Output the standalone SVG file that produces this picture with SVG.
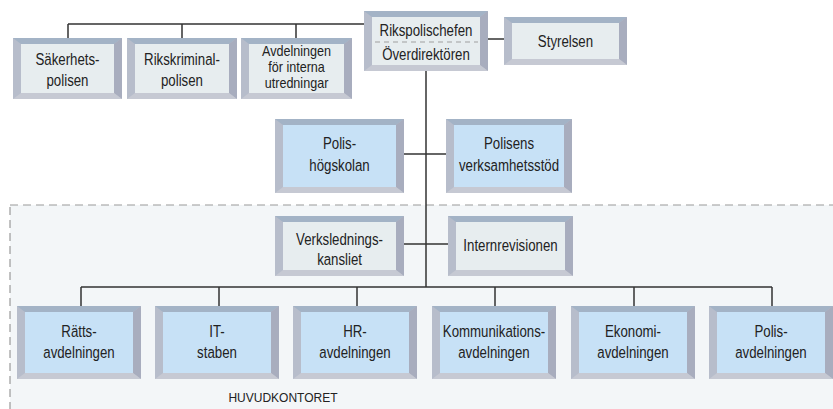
<svg xmlns="http://www.w3.org/2000/svg" width="833" height="409" viewBox="0 0 833 409">
<style>
.bg{fill:#ffffff}
.zone{fill:#f3f6f8;stroke:#9a9a9a;stroke-width:1.2;stroke-dasharray:8 5}
.ln{fill:none;stroke:#333333;stroke-width:1.5}
.fl{fill:#b7bdcb}
.ft{fill:#a3b3c6}
.fr{fill:#a8adbe}
.fb{fill:#c6c9d3}
.ig{fill:#e7edef}
.ib{fill:#c7e1f6}
.dash{stroke:#a0a0a0;stroke-width:1.2;stroke-dasharray:5 4}
.t{font-family:"Liberation Sans",Arial,sans-serif;font-size:17px;fill:#222222;text-anchor:middle;transform-box:fill-box;transform-origin:center;transform:scaleX(0.78)}
.s{font-size:14px;transform:scaleX(0.9)}
.cap{font-family:"Liberation Sans",Arial,sans-serif;font-size:12px;fill:#222222;text-anchor:middle}
</style>
<rect class="bg" x="0" y="0" width="833" height="409"/>
<rect id="huvudkontoret-zone" class="zone" x="10" y="205" width="830" height="215"/>
<g id="connectors">
<path class="ln" d="M68,24 H364 M68,24 V38 M182,24 V38 M296,24 V38"/>
<path class="ln" d="M488,39 H504"/>
<path class="ln" d="M426,71 V287"/>
<path class="ln" d="M404,154 H446"/>
<path class="ln" d="M404,244 H448"/>
<path class="ln" d="M81,287 H772 M81,287 V306 M219,287 V306 M357,287 V306 M495,287 V306 M634,287 V306 M772,287 V306"/>
</g>
<g id="sakerhetspolisen">
<rect class="fl" x="13" y="38" width="109" height="61"/>
<polygon class="ft" points="13,38 122,38 114,44 21,44"/>
<polygon class="fr" points="122,38 122,99 114,93 114,44"/>
<polygon class="fb" points="13,99 122,99 114,93 21,93"/>
<rect class="ig" x="21" y="44" width="93" height="49"/>
<text class="t" x="67.5" y="65">Säkerhets-</text>
<text class="t" x="67.5" y="86">polisen</text>
</g>
<g id="rikskriminalpolisen">
<rect class="fl" x="127" y="38" width="110" height="61"/>
<polygon class="ft" points="127,38 237,38 229,44 135,44"/>
<polygon class="fr" points="237,38 237,99 229,93 229,44"/>
<polygon class="fb" points="127,99 237,99 229,93 135,93"/>
<rect class="ig" x="135" y="44" width="94" height="49"/>
<text class="t" x="182" y="65">Rikskriminal-</text>
<text class="t" x="182" y="86">polisen</text>
</g>
<g id="avdelningen-interna">
<rect class="fl" x="241" y="38" width="111" height="61"/>
<polygon class="ft" points="241,38 352,38 344,44 249,44"/>
<polygon class="fr" points="352,38 352,99 344,93 344,44"/>
<polygon class="fb" points="241,99 352,99 344,93 249,93"/>
<rect class="ig" x="249" y="44" width="95" height="49"/>
<text class="t s" x="296.5" y="56">Avdelningen</text>
<text class="t s" x="296.5" y="72">för interna</text>
<text class="t s" x="296.5" y="88">utredningar</text>
</g>
<g id="rikspolischefen">
<rect class="fl" x="364" y="11" width="124" height="60"/>
<polygon class="ft" points="364,11 488,11 480,17 372,17"/>
<polygon class="fr" points="488,11 488,71 480,65 480,17"/>
<polygon class="fb" points="364,71 488,71 480,65 372,65"/>
<rect class="ig" x="372" y="17" width="108" height="48"/>
<line class="dash" x1="375" y1="42" x2="478" y2="42"/>
<text class="t" x="426" y="36">Rikspolischefen</text>
<text class="t" x="426" y="60">Överdirektören</text>
</g>
<g id="styrelsen">
<rect class="fl" x="504" y="17" width="123" height="48"/>
<polygon class="ft" points="504,17 627,17 619,23 512,23"/>
<polygon class="fr" points="627,17 627,65 619,59 619,23"/>
<polygon class="fb" points="504,65 627,65 619,59 512,59"/>
<rect class="ig" x="512" y="23" width="107" height="36"/>
<text class="t" x="565.5" y="47">Styrelsen</text>
</g>
<g id="polishogskolan">
<rect class="fl" x="275" y="119" width="129" height="74"/>
<polygon class="ft" points="275,119 404,119 396,125 283,125"/>
<polygon class="fr" points="404,119 404,193 396,187 396,125"/>
<polygon class="fb" points="275,193 404,193 396,187 283,187"/>
<rect class="ib" x="283" y="125" width="113" height="62"/>
<text class="t" x="339.5" y="149">Polis-</text>
<text class="t" x="339.5" y="171">högskolan</text>
</g>
<g id="polisens-verksamhetsstod">
<rect class="fl" x="446" y="119" width="126" height="74"/>
<polygon class="ft" points="446,119 572,119 564,125 454,125"/>
<polygon class="fr" points="572,119 572,193 564,187 564,125"/>
<polygon class="fb" points="446,193 572,193 564,187 454,187"/>
<rect class="ib" x="454" y="125" width="110" height="62"/>
<text class="t" x="509" y="149">Polisens</text>
<text class="t" x="509" y="171">verksamhetsstöd</text>
</g>
<g id="verksledningskansliet">
<rect class="fl" x="275" y="216" width="129" height="60"/>
<polygon class="ft" points="275,216 404,216 396,222 283,222"/>
<polygon class="fr" points="404,216 404,276 396,270 396,222"/>
<polygon class="fb" points="275,276 404,276 396,270 283,270"/>
<rect class="ig" x="283" y="222" width="113" height="48"/>
<text class="t" x="339.5" y="245">Verkslednings-</text>
<text class="t" x="339.5" y="265">kansliet</text>
</g>
<g id="internrevisionen">
<rect class="fl" x="448" y="216" width="125" height="60"/>
<polygon class="ft" points="448,216 573,216 565,222 456,222"/>
<polygon class="fr" points="573,216 573,276 565,270 565,222"/>
<polygon class="fb" points="448,276 573,276 565,270 456,270"/>
<rect class="ig" x="456" y="222" width="109" height="48"/>
<text class="t" x="510.5" y="251">Internrevisionen</text>
</g>
<g id="rattsavdelningen">
<rect class="fl" x="17" y="306" width="124" height="73"/>
<polygon class="ft" points="17,306 141,306 133,312 25,312"/>
<polygon class="fr" points="141,306 141,379 133,373 133,312"/>
<polygon class="fb" points="17,379 141,379 133,373 25,373"/>
<rect class="ib" x="25" y="312" width="108" height="61"/>
<text class="t" x="79" y="337">Rätts-</text>
<text class="t" x="79" y="358">avdelningen</text>
</g>
<g id="it-staben">
<rect class="fl" x="155" y="306" width="124" height="73"/>
<polygon class="ft" points="155,306 279,306 271,312 163,312"/>
<polygon class="fr" points="279,306 279,379 271,373 271,312"/>
<polygon class="fb" points="155,379 279,379 271,373 163,373"/>
<rect class="ib" x="163" y="312" width="108" height="61"/>
<text class="t" x="217" y="337">IT-</text>
<text class="t" x="217" y="358">staben</text>
</g>
<g id="hr-avdelningen">
<rect class="fl" x="293" y="306" width="124" height="73"/>
<polygon class="ft" points="293,306 417,306 409,312 301,312"/>
<polygon class="fr" points="417,306 417,379 409,373 409,312"/>
<polygon class="fb" points="293,379 417,379 409,373 301,373"/>
<rect class="ib" x="301" y="312" width="108" height="61"/>
<text class="t" x="355" y="337">HR-</text>
<text class="t" x="355" y="358">avdelningen</text>
</g>
<g id="kommunikationsavdelningen">
<rect class="fl" x="432" y="306" width="124" height="73"/>
<polygon class="ft" points="432,306 556,306 548,312 440,312"/>
<polygon class="fr" points="556,306 556,379 548,373 548,312"/>
<polygon class="fb" points="432,379 556,379 548,373 440,373"/>
<rect class="ib" x="440" y="312" width="108" height="61"/>
<text class="t" x="494" y="337">Kommunikations-</text>
<text class="t" x="494" y="358">avdelningen</text>
</g>
<g id="ekonomiavdelningen">
<rect class="fl" x="571" y="306" width="124" height="73"/>
<polygon class="ft" points="571,306 695,306 687,312 579,312"/>
<polygon class="fr" points="695,306 695,379 687,373 687,312"/>
<polygon class="fb" points="571,379 695,379 687,373 579,373"/>
<rect class="ib" x="579" y="312" width="108" height="61"/>
<text class="t" x="633" y="337">Ekonomi-</text>
<text class="t" x="633" y="358">avdelningen</text>
</g>
<g id="polisavdelningen">
<rect class="fl" x="709" y="306" width="124" height="73"/>
<polygon class="ft" points="709,306 833,306 825,312 717,312"/>
<polygon class="fr" points="833,306 833,379 825,373 825,312"/>
<polygon class="fb" points="709,379 833,379 825,373 717,373"/>
<rect class="ib" x="717" y="312" width="108" height="61"/>
<text class="t" x="771" y="337">Polis-</text>
<text class="t" x="771" y="358">avdelningen</text>
</g>
<text class="cap" x="283" y="402">HUVUDKONTORET</text>
</svg>
